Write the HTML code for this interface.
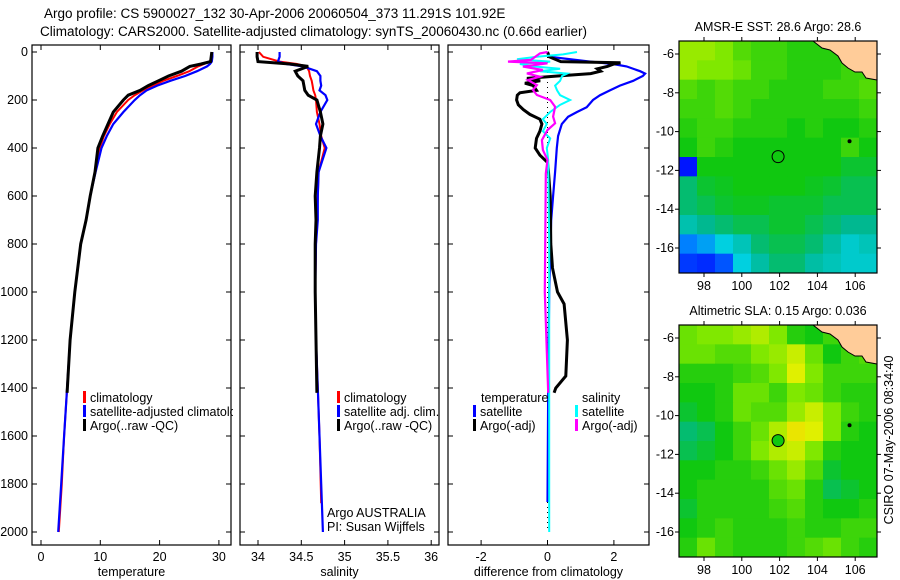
<!DOCTYPE html>
<html><head><meta charset="utf-8"><style>
body{margin:0;background:#fff;}
svg{display:block;font-family:"Liberation Sans",sans-serif;}
</style></head><body>
<svg id="c" width="900" height="580" viewBox="0 0 900 580">
<rect width="900" height="580" fill="#fff"/>
<text x="44" y="18" font-size="13.5">Argo profile: CS 5900027_132 30-Apr-2006 20060504_373 11.291S 101.92E</text>
<text x="40" y="36" font-size="13.5">Climatology: CARS2000. Satellite-adjusted climatology: synTS_20060430.nc (0.66d earlier)</text>
<g id="g"></g>
<text transform="translate(893,440) rotate(-90)" text-anchor="middle" font-size="12.5">CSIRO 07-May-2006 08:34:40</text>
</svg>
<script>
// ---- Data ----
const depths = [0,20,40,50,60,80,100,120,140,160,180,200,250,300,350,400,500,600,700,800,1000,1200,1400,1600,1800,2000];
const tempClim = [28.8,28.7,28.5,27.5,26.5,25,22.9,20.6,18.9,17.2,15.8,14.7,12.8,11.6,10.6,9.9,9.1,8.3,7.6,6.7,5.7,4.9,4.4,3.9,3.5,3.0];
const tempSat  = [28.9,28.9,28.8,28.5,28,26.3,24.3,21.8,19.6,17.8,16.7,15.8,13.9,12.2,11.1,10.2,9.2,8.3,7.6,6.7,5.7,4.9,4.4,3.9,3.4,2.9];
const tempArgo = [28.8,28.7,28.6,27,25.1,23.7,21.5,19.8,18.1,16.7,14.7,13.9,12.2,11.3,10.4,9.6,9.1,8.3,7.6,6.7,5.7,4.9,4.4];
const salClim = [34.01,34.06,34.25,34.45,34.56,34.59,34.60,34.62,34.63,34.64,34.66,34.67,34.68,34.71,34.73,34.77,34.70,34.69,34.68,34.67,34.66,34.67,34.69,34.71,34.73];
const salSat  = [34.25,34.25,34.23,34.33,34.52,34.68,34.72,34.72,34.73,34.71,34.78,34.80,34.72,34.67,34.72,34.79,34.70,34.69,34.69,34.67,34.66,34.67,34.69,34.71,34.73,34.75];
const salArgo = [33.99,33.99,34.0,34.37,34.58,34.43,34.46,34.52,34.53,34.54,34.58,34.68,34.72,34.75,34.72,34.71,34.68,34.66,34.67,34.66,34.66,34.67,34.68];
const diffTDepth = [0,20,40,50,60,80,90,100,120,140,160,180,200,230,250,270,300,350,400,500,600,700,1000,1400,1875];
const diffTSat = [0,0.08,1.28,1.97,2.38,2.79,2.94,2.87,2.58,2.18,1.88,1.58,1.37,1.18,0.89,0.62,0.43,0.32,0.28,0.23,0.17,0.11,0.05,0.02,0];
const diffTArgoDepth = [0,20,40,45,50,60,70,80,90,100,110,120,130,140,160,170,180,200,220,240,260,280,300,330,360,400,430,460,500,600,800,900,1000,1050,1200,1350,1400,1420];
const diffTArgo = [0,0.05,0.4,2.2,2.0,1.8,1.5,1.6,1.3,0.3,-0.62,-0.22,-0.68,-0.43,-0.33,-0.83,-0.91,-0.93,-0.88,-0.73,-0.53,-0.23,-0.17,-0.23,-0.33,-0.37,-0.23,0,0.03,0.08,0.1,0.15,0.3,0.5,0.6,0.55,0.25,0.2];
const diffSSatDepth = [0,10,20,30,40,50,60,70,80,90,100,120,140,160,180,200,220,250,280,300,330,360,400,450,800,1400,2000];
const diffSSat = [0.89,0.47,-0.32,-0.92,0.08,-0.83,-0.44,0.38,-0.23,0.59,0.44,0.38,0.23,0.29,0.38,0.68,0.38,0.08,-0.14,-0.02,-0.14,0.08,-0.02,0.02,0.05,0.05,0.05];
const diffSArgoDepth = [0,6,33,40,47,61,75,89,103,117,138,158,179,200,228,269,297,325,367,408,450,506,1000,1420];
const diffSArgo = [0,-0.23,-0.5,-1.19,0,-0.74,-0.14,-0.62,-0.23,-0.59,-0.32,-0.44,-0.32,0.08,0.23,0.17,0.23,0,-0.17,-0.14,0,-0.05,-0.08,0.02];
const depthTicks = [0,200,400,600,800,1000,1200,1400,1600,1800,2000];
const tempTicks = [0,10,20,30];
const salTicks = ["34","34.5","35","35.5","36"];
const diffTicks = [-2,0,2];
const lonTicks = [98,100,102,104,106];
const latTicks = [-6,-8,-10,-12,-14,-16];
const sstGrid = [
[.68,.68,.66,.62,.6,.6,.58,.58,.58,.6,.75],
[.68,.66,.66,.64,.6,.6,.58,.58,.58,.6,.6],
[.62,.6,.62,.6,.6,.58,.58,.58,.6,.6,.62],
[.6,.6,.62,.6,.58,.58,.58,.58,.58,.58,.6],
[.58,.6,.6,.58,.58,.58,.56,.58,.56,.56,.58],
[.56,.6,.58,.56,.56,.56,.56,.56,.56,.6,.56],
[.15,.56,.56,.56,.56,.56,.56,.56,.56,.54,.54],
[.5,.54,.55,.56,.56,.56,.56,.55,.54,.52,.52],
[.5,.52,.54,.55,.55,.54,.54,.54,.52,.52,.52],
[.45,.48,.5,.52,.52,.54,.54,.52,.5,.48,.48],
[.3,.34,.4,.44,.5,.52,.52,.5,.46,.42,.44],
[.2,.18,.24,.4,.46,.5,.5,.46,.44,.42,.42]];
const slaGrid = [
[.64,.66,.66,.68,.70,.66,.58,.56,.6,.62,.6],
[.64,.64,.62,.62,.66,.68,.72,.64,.56,.6,.62],
[.58,.58,.58,.6,.62,.66,.74,.66,.6,.6,.6],
[.56,.56,.58,.64,.64,.6,.66,.64,.6,.58,.58],
[.54,.56,.58,.64,.62,.62,.68,.72,.66,.6,.58],
[.5,.52,.56,.6,.64,.7,.76,.74,.66,.58,.56],
[.52,.54,.56,.6,.66,.7,.72,.66,.58,.56,.56],
[.56,.56,.58,.58,.6,.64,.68,.62,.54,.56,.56],
[.56,.58,.58,.58,.58,.62,.64,.58,.52,.54,.56],
[.54,.58,.58,.58,.58,.6,.62,.58,.56,.56,.58],
[.56,.58,.6,.58,.58,.58,.6,.58,.58,.6,.6],
[.58,.64,.6,.58,.58,.58,.6,.62,.64,.6,.58]];
const argoLon = 101.92, argoLat = -11.291;

// ---- Drawing ----
const NS="http://www.w3.org/2000/svg", G=document.getElementById('g');
function el(t,a,p){const e=document.createElementNS(NS,t);for(const k in a)e.setAttribute(k,a[k]);(p||G).appendChild(e);return e;}
const yD = d => 52 + d*0.24;
const xT = v => 41 + v*5.93;
const xS = v => 258 + (v-34)*86.6;
const xF = v => 547.5 + v*33.2;
function line(xs,ds,fx,col,w,name){
  const n=Math.min(xs.length,ds.length);
  const p=xs.slice(0,n).map((v,i)=>fx(v).toFixed(1)+','+yD(ds[i]).toFixed(1)).join(' ');
  const e=el('polyline',{points:p,fill:'none',stroke:col,'stroke-width':w,'stroke-linejoin':'miter'});
  
  
}
function txt(x,y,s,o){const e=el('text',Object.assign({x:x,y:y,'font-size':12.5},o||{}));e.textContent=s;return e;}
function panel(x0,x1,name,label,ticks,fx,showY){
  const r=el('rect',{x:x0,y:45,width:x1-x0,height:500,fill:'#fff',stroke:'#000','stroke-width':1.2});
  
  
  ticks.forEach(t=>{const x=fx(+t);
    el('line',{x1:x,x2:x,y1:545,y2:540,stroke:'#000'});el('line',{x1:x,x2:x,y1:45,y2:50,stroke:'#000'});
    const tl=txt(x,561,String(t),{'text-anchor':'middle'});
    
    });
  depthTicks.forEach(d=>{const y=yD(d);
    el('line',{x1:x0,x2:x0+5,y1:y,y2:y,stroke:'#000'});el('line',{x1:x1-5,x2:x1,y1:y,y2:y,stroke:'#000'});
    if(showY){const tl=txt(28,y+4,String(d),{'text-anchor':'end'});
      
      }});
  const xl=txt((x0+x1)/2,576,label,{'text-anchor':'middle'});
  
  
}
function legend(x,y,col,s){
  el('rect',{x:x,y:y-11,width:3,height:12,fill:col});
  const t=txt(x+7,y,s);
  
  
}
// panel 1
panel(32,231,'temperature-panel','temperature',tempTicks,xT,true);
line(tempClim,depths,xT,'#f00',2,'temp-climatology-line');
line(tempSat,depths,xT,'#00f',2.2,'temp-satellite-line');
line(tempArgo,depths.slice(0,tempArgo.length-1).concat([1420]),xT,'#000',3,'temp-argo-line');
legend(83,402,'#f00','climatology');legend(83,416,'#00f','satellite-adjusted climatology');legend(83,430,'#000','Argo(..raw -QC)');
// panel 2
el('rect',{x:233,y:380,width:7,height:60,fill:'#fff'});
panel(240,439,'salinity-panel','salinity',salTicks,xS,false);
line(salClim,depths.slice(0,salClim.length-1).concat([1880]),xS,'#f00',2,'sal-climatology-line');
line(salSat,depths,xS,'#00f',2.2,'sal-satellite-line');
line(salArgo,depths.slice(0,salArgo.length-1).concat([1420]),xS,'#000',3,'sal-argo-line');
legend(337,402,'#f00','climatology');legend(337,416,'#00f','satellite adj. clim.');legend(337,430,'#000','Argo(..raw -QC)');
txt(327,517,'Argo AUSTRALIA');
txt(327,531,'PI: Susan Wijffels');
// panel 3
panel(448,649,'difference-panel','difference from climatology',diffTicks,xF,false);
el('line',{x1:xF(0),x2:xF(0),y1:52,y2:532,stroke:'#000','stroke-dasharray':'1,4'});
line(diffTSat,diffTDepth,xF,'#00f',2.2,'diff-temp-satellite-line');
line(diffTArgo,diffTArgoDepth,xF,'#000',3,'diff-temp-argo-line');
line(diffSSat,diffSSatDepth,xF,'#0ff',2,'diff-sal-satellite-line');
line(diffSArgo,diffSArgoDepth,xF,'#f0f',2.2,'diff-sal-argo-line');
txt(481,402,'temperature');
txt(582,402,'salinity');
legend(473,416,'#00f','satellite');legend(473,430,'#000','Argo(-adj)');
legend(575,416,'#0ff','satellite');legend(575,430,'#f0f','Argo(-adj)');

// maps
const stops=[[0,[0,0,128]],[.12,[0,0,255]],[.3,[0,128,255]],[.4,[0,208,224]],[.48,[0,184,144]],[.56,[16,200,16]],[.66,[128,232,0]],[.74,[224,240,0]],[.8,[255,208,0]],[.9,[255,96,0]],[1,[160,0,0]]];
function cmap(v){for(let i=1;i<stops.length;i++){if(v<=stops[i][0]){const a=stops[i-1],b=stops[i],f=(v-a[0])/(b[0]-a[0]);
  return 'rgb('+a[1].map((c,j)=>Math.round(c+(b[1][j]-c)*f)).join(',')+')';}}return 'rgb(160,0,0)';}
function map(top,grid,title,name,filled){
  const L=679,R=877,B=top+232;
  const lx=v=>704+(v-98)*18.9, ly=v=>top+13+(-6-v)*19.4;
  const cw=(R-L)/grid[0].length, ch=(B-top)/grid.length;
  grid.forEach((row,i)=>row.forEach((v,j)=>{
    const c=el('rect',{x:(L+j*cw).toFixed(2),y:(top+i*ch).toFixed(2),width:(cw+0.5).toFixed(2),height:(ch+0.5).toFixed(2),fill:cmap(v)});
    
    }));
  const land=el('polygon',{points:`813,${top} 822,${top+7} 830,${top+9} 838,${top+15} 842,${top+22} 848,${top+27} 855,${top+31} 862,${top+31} 866,${top+37} 877,${top+39} 877,${top}`,fill:'#ffcc99',stroke:'#000','stroke-width':1});
  
  
  el('circle',{cx:lx(105.7),cy:ly(-10.5),r:2,fill:'#000'});
  const m=el('circle',{cx:lx(argoLon),cy:ly(argoLat),r:6,fill:filled?'#10c810':'none',stroke:'#000','stroke-width':1});
  
  
  const fr=el('rect',{x:L,y:top,width:R-L,height:B-top,fill:'none',stroke:'#000','stroke-width':1.2});
  
  
  lonTicks.forEach(t=>{const x=lx(t);el('line',{x1:x,x2:x,y1:B,y2:B+4,stroke:'#000'});el('line',{x1:x,x2:x,y1:top,y2:top-4,stroke:'#000'});
    const tl=txt(x,B+17,String(t),{'text-anchor':'middle'});
    
    });
  latTicks.forEach(t=>{const y=ly(t);el('line',{x1:L-4,x2:L,y1:y,y2:y,stroke:'#000'});el('line',{x1:R,x2:R+4,y1:y,y2:y,stroke:'#000'});
    const tl=txt(L-5,y+4,String(t),{'text-anchor':'end'});
    
    });
  const tt=txt(778,top-10,title,{'text-anchor':'middle'});
  
  
}
map(41,sstGrid,'AMSR-E SST: 28.6 Argo: 28.6','sst-map',false);
map(325,slaGrid,'Altimetric SLA: 0.15 Argo: 0.036','sla-map',true);
</script>
</body></html>
